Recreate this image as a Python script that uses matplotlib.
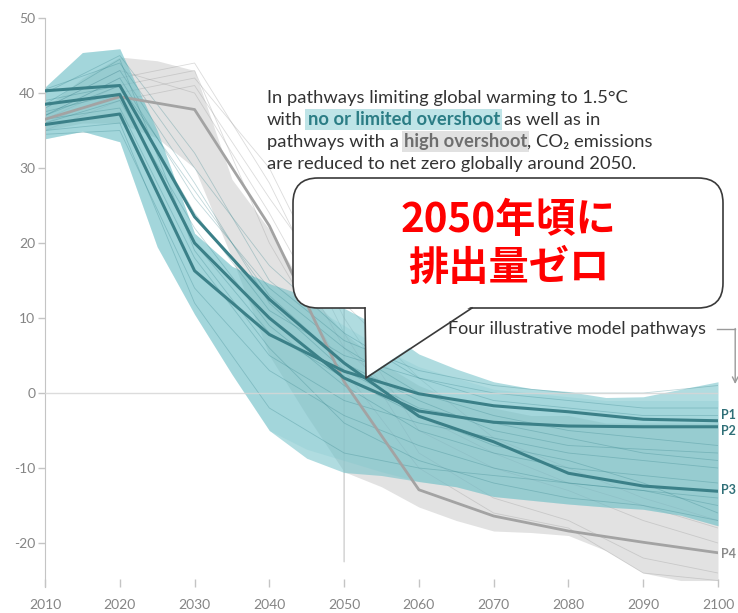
import numpy as np
import matplotlib.pyplot as plt
from matplotlib.patches import FancyBboxPatch, Polygon
from matplotlib.lines import Line2D

plt.rcParams['font.family'] = ['Lato', 'DejaVu Sans']
plt.rcParams['axes.unicode_minus'] = False

# envelopes of the scenario ranges, 5-year steps (GtCO2/yr)
band_years = list(range(2010, 2101, 5))
teal_hi = [40.8, 45.4, 45.9, 35.0, 21.3, 16.9, 14.6, 12.9, 11.3, 8.7, 5.2, 3.2, 1.5, 0.6, 0.2, -0.6, -0.5, 0.5, 1.5]
teal_lo = [33.9, 34.9, 33.5, 19.5, 10.5, 2.5, -5.0, -8.7, -10.6, -11.0, -11.8, -12.5, -13.8, -14.3, -14.8, -15.2, -15.5, -16.3, -17.7]
core_hi = [40.8, 45.4, 45.9, 35.0, 21.3, 16.9, 14.6, 12.0, 9.0, 6.0, 3.5, 2.0, 0.5, 0.0, -0.5, -1.0, -1.0, -1.0, -1.0]
core_lo = [33.9, 34.9, 33.5, 19.5, 10.5, 2.5, -5.0, -7.5, -9.0, -10.5, -11.8, -12.5, -13.8, -14.3, -14.8, -15.2, -15.5, -16.3, -17.7]
gray_hi = [38.0, 42.0, 44.8, 44.3, 43.0, 28.5, 21.8, 13.5, 8.0, 4.0, 1.0, -1.0, -2.0, -3.0, -3.0, -4.0, -4.0, -4.0, -4.0]
gray_lo = [35.0, 36.0, 36.0, 34.0, 30.0, 18.0, 5.0, -3.0, -10.5, -12.5, -15.2, -17.0, -18.4, -18.6, -19.0, -21.0, -24.0, -25.0, -25.0]

# individual scenarios and the four illustrative pathways, 10-year steps
years = list(range(2010, 2101, 10))
teal_runs = [
    [40.5, 44.0, 30.0, 17.0, 8.0, 2.0, -1.0, -2.0, -3.0, -3.0],
    [37.0, 42.0, 26.0, 14.0, 6.0, 0.0, -3.0, -5.0, -6.0, -7.0],
    [36.0, 39.0, 22.0, 9.0, 1.0, -5.0, -8.0, -10.0, -11.0, -12.0],
    [34.5, 35.0, 14.0, 3.0, -3.0, -7.0, -10.0, -12.0, -13.0, -15.0],
    [38.0, 43.0, 28.0, 12.0, 3.0, -2.0, -4.0, -6.0, -8.0, -9.0],
    [35.0, 36.0, 12.0, -2.0, -8.0, -10.0, -11.0, -12.0, -13.0, -14.0],
    [39.0, 41.0, 24.0, 11.0, 5.0, 2.0, 0.0, -1.0, -2.0, -2.0],
    [36.5, 38.0, 18.0, 5.0, -1.0, -4.0, -6.0, -8.0, -9.0, -10.0],
    [37.5, 40.0, 20.0, 8.0, 2.0, -3.0, -7.0, -9.0, -12.0, -16.0],
    [40.0, 45.0, 32.0, 15.0, 7.0, 3.0, 1.0, 0.0, 0.0, 1.0],
    [38.5, 44.5, 19.0, 6.0, -4.0, -9.0, -12.0, -14.0, -15.0, -17.0],
    [37.0, 41.0, 27.0, 13.0, 4.0, -1.0, -5.0, -7.0, -7.5, -8.0],
]
gray_runs = [
    [36.0, 40.0, 42.0, 30.0, 10.0, -5.0, -10.0, -13.0, -17.0, -20.0],
    [37.0, 42.0, 44.0, 28.0, 8.0, -8.0, -14.0, -17.0, -22.0, -24.0],
    [38.0, 43.0, 40.0, 24.0, 6.0, -3.0, -8.0, -12.0, -15.0, -18.0],
    [35.0, 39.0, 41.0, 26.0, 12.0, 2.0, -6.0, -10.0, -14.0, -17.0],
    [36.5, 41.0, 43.0, 20.0, 3.0, -10.0, -16.0, -18.0, -24.0, -25.0],
]
p1 = [35.8, 37.2, 16.3, 7.8, 2.9, -0.1, -1.7, -2.5, -3.5, -3.7]
p2 = [38.5, 39.8, 20.0, 10.0, 2.0, -2.4, -3.9, -4.4, -4.5, -4.5]
p3 = [40.3, 41.0, 23.5, 12.5, 4.0, -3.1, -6.5, -10.7, -12.4, -13.1]
p4 = [36.5, 39.5, 37.8, 22.3, 1.5, -12.9, -16.4, -18.4, -19.9, -21.3]
path_names = ['P1', 'P2', 'P3', 'P4']
name_y = [-2.9, -5.1, -12.9, -21.5]

TEAL = '#6fc0c8'
TEAL_DARK = '#3b8088'
GRAY_LINE = '#a3a3a3'
TICK_GRAY = '#858585'

fig = plt.figure(figsize=(7.38, 6.13), dpi=100)
ax = fig.add_axes([0.061, 0.0432, 0.9119, 0.9274])
ax.set_xlim(2010, 2100)
ax.set_ylim(-25.8, 50)

# 2050 marker behind everything
ax.annotate('', xy=(2050, 27.5), xytext=(2050, -22.5),
            arrowprops=dict(arrowstyle='->', color='#d0d0d0', lw=1, shrinkA=0, shrinkB=0),
            zorder=0)

# high overshoot range (grey) under the limited overshoot range (teal)
ax.fill_between(band_years, gray_lo, gray_hi, color='#cfcfcf', alpha=0.6, lw=0, zorder=1)
for run in gray_runs:
    ax.plot(years, run, color='#9a9a9a', lw=0.6, alpha=0.35, zorder=1.5)
ax.fill_between(band_years, teal_lo, teal_hi, color=TEAL, alpha=0.55, lw=0, zorder=2)
ax.fill_between(band_years, core_lo, core_hi, color=TEAL, alpha=0.2, lw=0, zorder=2.1)
for run in teal_runs:
    ax.plot(years, run, color='#2f7f88', lw=0.6, alpha=0.3, zorder=2.5)

ax.axhline(0, color='#d6d6d6', lw=1, alpha=0.85, zorder=3)

ax.plot(years, p4, color=GRAY_LINE, lw=2, zorder=4)
for p in (p1, p2, p3):
    ax.plot(years, p, color=TEAL_DARK, lw=2.2, zorder=4.5)

for name, y in zip(path_names, name_y):
    ax.text(2100.4, y, name, color='#8a8a8a' if name == 'P4' else '#2f6f77',
            fontsize=9, fontweight='bold', va='center', ha='left', clip_on=False)

# axes styling
for side in ('top', 'right', 'bottom'):
    ax.spines[side].set_visible(False)
ax.spines['left'].set_color('#c4c4c4')
ax.set_yticks(range(-20, 51, 10))
ax.set_xticks(range(2010, 2101, 10))
ax.tick_params(axis='y', direction='out', length=5, width=1, color='#c4c4c4',
               labelcolor=TICK_GRAY, labelsize=10, pad=2)
ax.tick_params(axis='x', direction='in', length=6, width=1, color='#c4c4c4',
               labelcolor=TICK_GRAY, labelsize=10, pad=9)

# "Four illustrative model pathways" with its bent arrow
ax.text(2063.9, 7.9, 'Four illustrative model pathways', fontsize=13, color='#333333',
        va='baseline', ha='left')
ax.plot([2099.9, 2102.3], [8.6, 8.6], color='#9a9a9a', lw=1, clip_on=False)
ax.annotate('', xy=(2102.3, 1.2), xytext=(2102.3, 8.6),
            arrowprops=dict(arrowstyle='->', color='#9a9a9a', lw=1, shrinkA=0, shrinkB=0),
            annotation_clip=False)

# explanatory paragraph with highlighted phrases
renderer = fig.canvas.get_renderer()
inch = fig.dpi_scale_trans
plain = dict(color='#333333')
hl_teal = dict(color='#2b7d85', fontweight='bold',
               bbox=dict(boxstyle='square,pad=0.12', fc='#bfe4e7', ec='none'))
hl_gray = dict(color='#6e6e6e', fontweight='bold',
               bbox=dict(boxstyle='square,pad=0.12', fc='#e1e1e1', ec='none'))
SP = None
FS = 13.2


def text_width(s, **kw):
    t = fig.text(0, 0, s, fontsize=FS, **kw)
    w = t.get_window_extent(renderer).width
    t.remove()
    return w / fig.dpi


space_w = text_width('a a') - text_width('aa')

lines = [
    [('In pathways limiting global warming to 1.5°C', plain)],
    [('with', plain), SP, ('no or limited overshoot', hl_teal), SP, ('as well as in', plain)],
    [('pathways with a', plain), SP, ('high overshoot', hl_gray), (', CO₂ emissions', plain)],
    [('are reduced to net zero globally around 2050.', plain)],
]
base_px = [103, 125, 147, 169]
for parts, py in zip(lines, base_px):
    x = 2.67
    for part in parts:
        if part is SP:
            x += space_w
            continue
        s, style = part
        t = fig.text(x, (613 - py) / 100, s, transform=inch, fontsize=FS,
                     va='baseline', ha='left', **style)
        x += t.get_window_extent(renderer).width / fig.dpi

# speech bubble
box = FancyBboxPatch((2.93, 3.05), 4.30, 1.30, boxstyle='round,pad=0,rounding_size=0.25',
                     transform=inch, fc='white', ec='#3a3a3a', lw=1.2, zorder=10)
fig.add_artist(box)
tail = [(3.65, 3.05), (3.66, 2.35), (4.72, 3.05)]
cover = Polygon([(3.657, 3.065), (3.66, 2.36), (4.71, 3.065)], closed=True,
                transform=inch, fc='white', ec='none', zorder=11)
fig.add_artist(cover)
fig.add_artist(Line2D([p[0] for p in tail], [p[1] for p in tail], transform=inch,
                      color='#3a3a3a', lw=1.2, zorder=12))
for s, yy in [('2050年頃に', 3.93), ('排出量ゼロ', 3.45)]:
    fig.text(5.09, yy, s, transform=inch, fontsize=29, fontweight='bold', color='#ff0000',
             family=['Noto Sans CJK JP', 'DejaVu Sans'], ha='center', va='center', zorder=13)

fig.savefig('out.png', dpi=100)
